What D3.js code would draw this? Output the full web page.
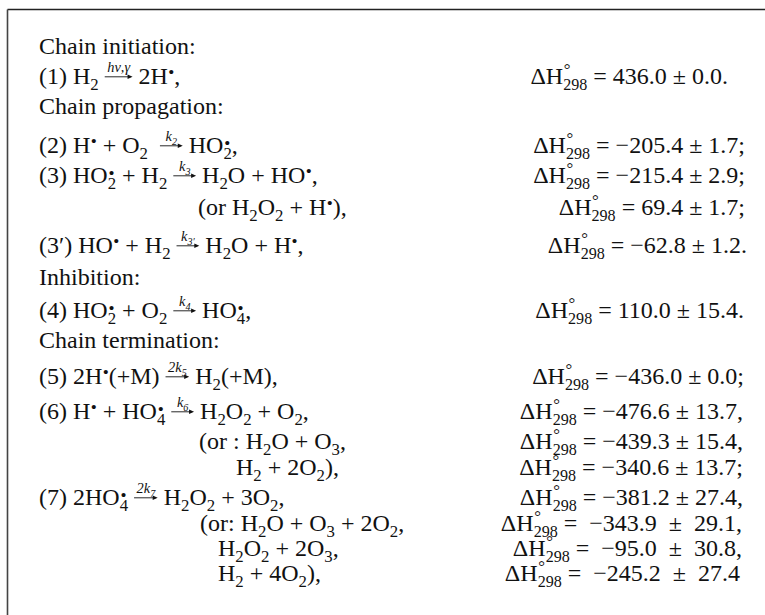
<!DOCTYPE html>
<html><head><meta charset="utf-8">
<script src="https://cdn.jsdelivr.net/npm/d3@7"></script>
<style>body{margin:0;background:#fff}svg text{white-space:pre}</style>
</head><body><svg id="c" width="765" height="615" xml:space="preserve"></svg>
<script>
// ---------- data ----------
const sectionTitles = ["Chain initiation:", "Chain propagation:", "Inhibition:", "Chain termination:"];
const reactionLabels = ["(1) ", "(2) ", "(3) ", "", "(3′) ", "(4) ", "(5) ", "(6) ", "", "", "(7) ", "", "", ""];
const enthalpy    = [436.0, -205.4, -215.4, 69.4, -62.8, 110.0, -436.0, -476.6, -439.3, -340.6, -381.2, -343.9, -95.0, -245.2];
const uncertainty = [0.0, 1.7, 2.9, 1.7, 1.2, 15.4, 0.0, 13.7, 15.4, 13.7, 27.4, 29.1, 30.8, 27.4];
const enthalpyEnd = [".", ";", ";", ";", ".", ".", ";", ",", ",", ";", ",", ",", ",", ""];
const wideSpacing = [false,false,false,false,false,false,false,false,false,false,false,true,true,true];

// equation tokens: t=text, sub, dot=radical dot, sd=subscript with dot above, arr=arrow with label, i=italic
const equations = [
  [["t","H"],["sub","2"],["t"," "],["arr",[["i","hν,γ"]]],["t"," 2H"],["dot"],["t",","]],
  [["t","H"],["dot"],["t"," + O"],["sub","2"],["t","  "],["arr",[["i","k"],["sub","2"]]],["t"," HO"],["sd","2"],["t",","]],
  [["t","HO"],["sd","2"],["t"," + H"],["sub","2"],["t"," "],["arr",[["i","k"],["sub","3"]]],["t"," H"],["sub","2"],["t","O + HO"],["dot"],["t",","]],
  [["t","(or H"],["sub","2"],["t","O"],["sub","2"],["t"," + H"],["dot"],["t","),"]],
  [["t","HO"],["dot"],["t"," + H"],["sub","2"],["t"," "],["arr",[["i","k"],["sub","3′"]]],["t"," H"],["sub","2"],["t","O + H"],["dot"],["t",","]],
  [["t","HO"],["sd","2"],["t"," + O"],["sub","2"],["t"," "],["arr",[["i","k"],["sub","4"]]],["t"," HO"],["sd","4"],["t",","]],
  [["t","2H"],["dot"],["t","(+M) "],["arr",[["t","2"],["i","k"],["sub","5"]]],["t"," H"],["sub","2"],["t","(+M),"]],
  [["t","H"],["dot"],["t"," + HO"],["sd","4"],["t"," "],["arr",[["i","k"],["sub","6"]]],["t"," H"],["sub","2"],["t","O"],["sub","2"],["t"," + O"],["sub","2"],["t",","]],
  [["t","(or : H"],["sub","2"],["t","O + O"],["sub","3"],["t",","]],
  [["t","H"],["sub","2"],["t"," + 2O"],["sub","2"],["t","),"]],
  [["t","2HO"],["sd","4"],["t"," "],["arr",[["t","2"],["i","k"],["sub","7"]]],["t"," H"],["sub","2"],["t","O"],["sub","2"],["t"," + 3O"],["sub","2"],["t",","]],
  [["t","(or: H"],["sub","2"],["t","O + O"],["sub","3"],["t"," + 2O"],["sub","2"],["t",","]],
  [["t","H"],["sub","2"],["t","O"],["sub","2"],["t"," + 2O"],["sub","3"],["t",","]],
  [["t","H"],["sub","2"],["t"," + 4O"],["sub","2"],["t","),"]]
];

// ---------- layout ----------
const rows = [
  {title:0},{eq:0},{title:1},{eq:1},{eq:2},{eq:3},{eq:4},{title:2},{eq:5},{title:3},
  {eq:6},{eq:7},{eq:8},{eq:9},{eq:10},{eq:11},{eq:12},{eq:13}
];
const rowBaseline = [54, 84, 114, 153, 183, 215, 253, 285, 318, 348, 384, 419, 449, 475, 505, 531, 556, 581];
const eqX = [39,39,39,198,39,39,39,39,199,236,39,200,218,218];
const rhsRight = [728,745,745,745,747,744,744,743,743,743,743,742,742,740];
const FS = 24;
const FONT = "'Liberation Serif','Times New Roman',serif";
const INK = "#111";

const svg = d3.select("#c").attr("font-family", FONT).attr("fill", INK);
const yScale = d3.scaleOrdinal().domain(d3.range(rows.length)).range(rowBaseline);

svg.append("line").attr("x1",7.5).attr("y1",9.5).attr("x2",765).attr("y2",9.5)
  .attr("stroke","#222").attr("stroke-width",1.6);
svg.append("line").attr("x1",7.5).attr("y1",9.5).attr("x2",7.5).attr("y2",615)
  .attr("stroke","#444").attr("stroke-width",1.6);

function txt(g, s, x, y, fs, italic) {
  const el = g.append("text").attr("x", x).attr("y", y).attr("font-size", fs)
    .attr("font-style", italic ? "italic" : "normal").text(s);
  return el.node().getComputedTextLength();
}
// one text element holding a stacked subscript and superscript (two tspans)
function stack(g, subS, supS, x, y, fs, subDy, supDy, supFs, italic) {
  const el = g.append("text").attr("font-size", fs*0.7).attr("font-style", italic ? "italic" : "normal");
  const t1 = el.append("tspan").attr("x", x).attr("y", y + fs*subDy).text(subS);
  const t2 = el.append("tspan").attr("x", x + 0.8).attr("y", y - fs*supDy).attr("font-size", fs*supFs)
    .attr("font-style", "normal").text(supS);
  return Math.max(t1.node().getComputedTextLength(), t2.node().getComputedTextLength() + 0.8);
}
// radical dot: bullet glyph raised near cap height
function dot(g, x, y, fs) {
  return txt(g, "•", x + 0.3, y - fs*0.26, fs*0.72, false) + 0.3;
}

function draw(g, tokens, x, y, fs, italic) {
  let cx = x;
  for (const tk of tokens) {
    const [type, a] = tk;
    if (type === "t") cx += txt(g, a, cx, y, fs, italic);
    else if (type === "i") cx += txt(g, a, cx, y, fs, true);
    else if (type === "sub") cx += txt(g, a, cx, y + fs*0.25, fs*0.7, italic);
    else if (type === "dot") cx += dot(g, cx, y, fs);
    else if (type === "sd") cx += stack(g, a, "•", cx, y, fs, 0.25, 0.17, 0.72, italic);
    else if (type === "deg") {
      const el = g.append("text").attr("font-size", fs*0.67);
      const t1 = el.append("tspan").attr("x", cx).attr("y", y + fs*0.25).text(a);
      el.append("tspan").attr("x", cx + 0.5).attr("y", y - fs*0.36).attr("font-size", fs*0.7).text("°");
      cx += t1.node().getComputedTextLength();
    } else if (type === "arr") {
      const lg = g.append("g");
      const lw = draw(lg, a, 0, 0, fs*0.6, true);
      const L = Math.max(lw + 5, fs*0.95);
      const ay = y - fs*0.3;
      g.append("line").attr("x1", cx).attr("x2", cx + L - 2).attr("y1", ay).attr("y2", ay)
        .attr("stroke", INK).attr("stroke-width", 0.9);
      g.append("path").attr("d", `M${cx+L-5},${ay-2.3}L${cx+L},${ay}L${cx+L-5},${ay+2.3}Z`).attr("fill", INK);
      lg.attr("transform", `translate(${cx + (L - lw)/2},${ay - fs*0.18})`);
      cx += L;
    }
  }
  return cx - x;
}

const fmt = d3.format(".1f");
rows.forEach((r, i) => {
  const y = yScale(i);
  const g = svg.append("g");
  if (r.title !== undefined) {
    txt(g, sectionTitles[r.title], 39, y, FS, false);
    return;
  }
  const k = r.eq;
  draw(g, [["t", reactionLabels[k]], ...equations[k]], eqX[k], y, FS, false);
  const sp = wideSpacing[k] ? "  " : " ";
  const rhs = [["t","ΔH"],["deg","298"],
    ["t", " =" + sp + fmt(enthalpy[k]) + sp + "±" + sp + fmt(uncertainty[k]) + enthalpyEnd[k]]];
  const rg = svg.append("g");
  const w = draw(rg, rhs, 0, y, FS, false);
  rg.attr("transform", `translate(${rhsRight[k] - w},0)`);
});
</script></body></html>
